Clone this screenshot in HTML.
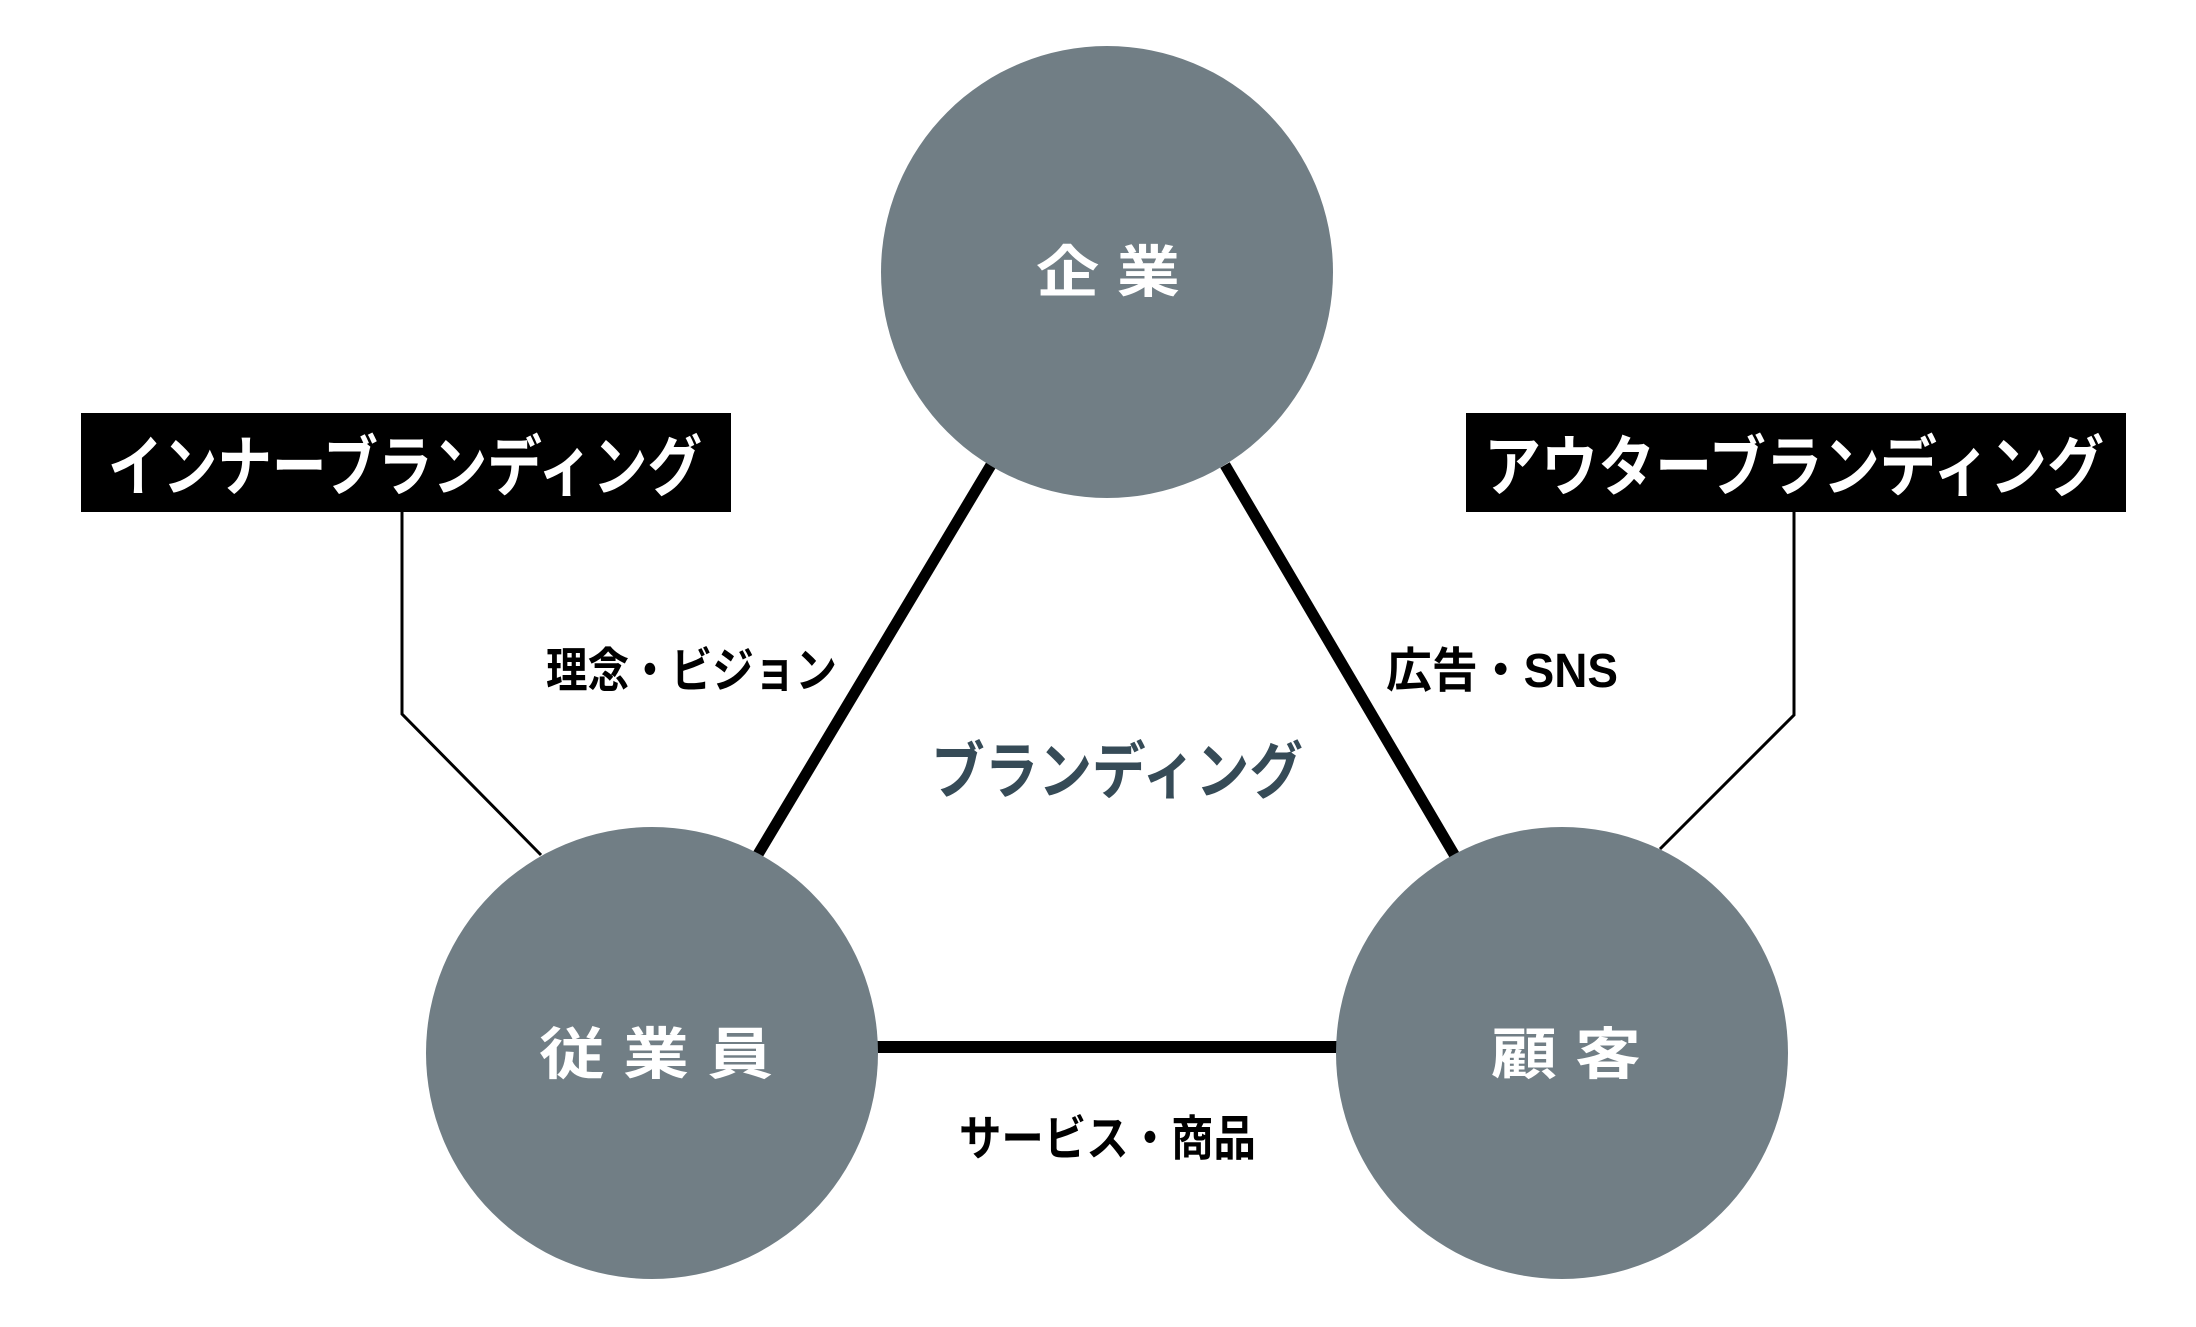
<!DOCTYPE html>
<html><head><meta charset="utf-8"><style>
html,body{margin:0;padding:0;background:#fff;}
svg{display:block;}
text{font-family:"Liberation Sans","Noto Sans CJK JP",sans-serif;font-weight:bold;}
</style></head><body>
<svg width="2196" height="1327" viewBox="0 0 2196 1327" xmlns="http://www.w3.org/2000/svg">
<rect width="2196" height="1327" fill="#fff"/>
<polyline points="402,512 402,714 541,855" fill="none" stroke="#000" stroke-width="3"/>
<polyline points="1794,512 1794,715 1660,849" fill="none" stroke="#000" stroke-width="3"/>
<line x1="991" y1="465" x2="757" y2="856" stroke="#000" stroke-width="11"/>
<line x1="1225" y1="465" x2="1455" y2="856" stroke="#000" stroke-width="11"/>
<line x1="870" y1="1047" x2="1345" y2="1047" stroke="#000" stroke-width="12"/>
<circle cx="1107" cy="272" r="226" fill="#717e85"/>
<circle cx="652" cy="1053" r="226" fill="#717e85"/>
<circle cx="1562" cy="1053" r="226" fill="#717e85"/>
<rect x="81" y="413" width="650" height="99" fill="#000"/>
<rect x="1466" y="413" width="660" height="99" fill="#000"/>
<text x="108" y="490" font-size="66" fill="#fff" textLength="594" lengthAdjust="spacingAndGlyphs">インナーブランディング</text>
<text x="1484" y="490" font-size="66" fill="#fff" textLength="620" lengthAdjust="spacingAndGlyphs">アウターブランディング</text>
<text x="1036" y="292" font-size="56" fill="#fff" textLength="144" lengthAdjust="spacingAndGlyphs">企 業</text>
<text x="539" y="1074" font-size="56" fill="#fff" textLength="234" lengthAdjust="spacingAndGlyphs">従 業 員</text>
<text x="1491" y="1074" font-size="56" fill="#fff" textLength="150" lengthAdjust="spacingAndGlyphs">顧 客</text>
<text x="546" y="687" font-size="48" fill="#000" textLength="291" lengthAdjust="spacingAndGlyphs">理念・ビジョン</text>
<text x="1386" y="687" font-size="48" fill="#000" textLength="232" lengthAdjust="spacingAndGlyphs">広告・SNS</text>
<text x="959" y="1155" font-size="48" fill="#000" textLength="297" lengthAdjust="spacingAndGlyphs">サービス・商品</text>
<text x="931" y="793" font-size="62" fill="#364b57" textLength="372" lengthAdjust="spacingAndGlyphs">ブランディング</text>
</svg>
</body></html>
